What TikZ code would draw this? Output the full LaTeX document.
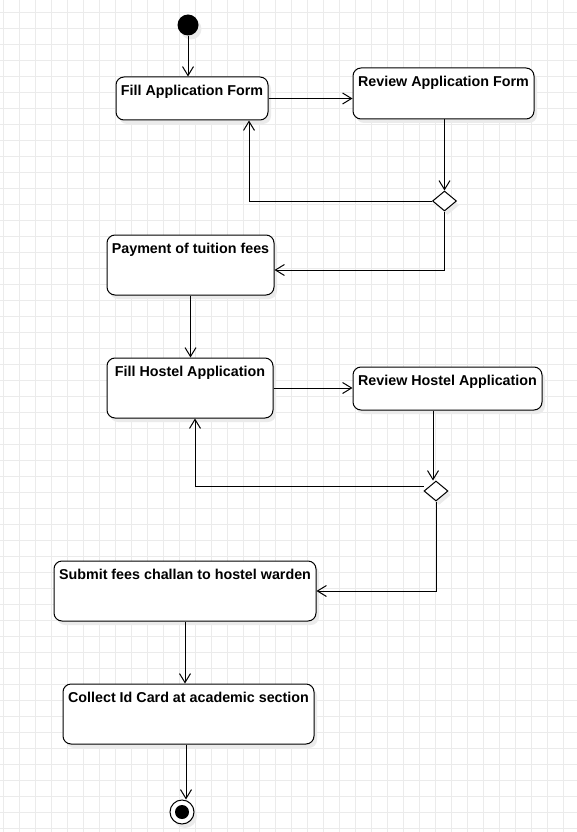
\documentclass[tikz,border=0pt]{standalone}
\usepackage{fontspec}
\setmainfont{Liberation Sans}
\usetikzlibrary{arrows.meta,shapes.geometric,shadows}

\begin{document}
\begin{tikzpicture}[x=1pt, y=-1pt, line width=1pt,
    >={Straight Barb[length=9pt,width=11pt]},
    shade/.style={drop shadow={shadow xshift=3pt, shadow yshift=-4pt, fill=black!8, opacity=1}},
    act/.style={draw, fill=white, rounded corners=8pt, inner sep=0pt, shade},
    txt/.style={anchor=north, inner sep=0pt, yshift=-8pt, font=\fontsize{14.3}{17}\selectfont\bfseries},
    dec/.style={diamond, draw, fill=white, inner sep=0pt, minimum width=24pt, minimum height=20pt, shade},
    flow/.style={->}]
    \useasboundingbox (0,0) rectangle (577,832);
    % grid
    \foreach \gx in {0,...,35} \draw[black!8] (3.3+16*\gx,0) -- (3.3+16*\gx,832);
    \foreach \gy in {0,...,51} \draw[black!8] (0,12.3+16*\gy) -- (577,12.3+16*\gy);

    \node[circle, fill=black, inner sep=0pt, minimum size=21pt, shade] (start) at (188,25) {};
    \node[act, minimum width=152pt, minimum height=43pt, label={[txt]north:Fill Application Form}] (fillapp) at (192,98.5) {};
    \node[act, minimum width=181pt, minimum height=51pt, label={[txt]north:Review Application Form}] (reviewapp) at (443.5,93.5) {};
    \node[dec] (dec1) at (444.5,201) {};
    \node[act, minimum width=167pt, minimum height=60pt, label={[txt]north:Payment of tuition fees}] (payment) at (190.5,265) {};
    \node[act, minimum width=166pt, minimum height=60pt, label={[txt]north:Fill Hostel Application}] (fillhostel) at (190,388) {};
    \node[act, minimum width=189pt, minimum height=43pt, label={[txt]north:Review Hostel Application}] (reviewhostel) at (447.5,388.5) {};
    \node[dec] (dec2) at (436,491) {};
    \node[act, minimum width=262pt, minimum height=60pt, label={[txt]north:Submit fees challan to hostel warden}] (submit) at (185,591) {};
    \node[act, minimum width=251pt, minimum height=60pt, label={[txt]north:Collect Id Card at academic section}] (collect) at (188.5,714) {};
    \node[circle, draw, fill=white, inner sep=0pt, minimum size=24pt, shade] (final) at (182,812) {};
    \node[circle, fill=black, inner sep=0pt, minimum size=14pt] (finaldot) at (final) {};

    \draw[flow] (start.south) -- (start |- fillapp.north);
    \draw[flow] (fillapp.east) -- (fillapp.east -| reviewapp.west);
    \draw[flow] (reviewapp.south -| dec1.north) -- (dec1.north);
    \draw[flow] (dec1.west) -| ([xshift=57pt]fillapp.south);
    \draw[flow] (dec1.south) |- ([yshift=-5pt]payment.east);
    \draw[flow] (payment.south) -- (payment.south |- fillhostel.north);
    \draw[flow] (fillhostel.east) -- (fillhostel.east -| reviewhostel.west);
    \draw[flow] ([xshift=-3pt]dec2.north |- reviewhostel.south) -- ([xshift=-3pt]dec2.north);
    \draw[flow] ([yshift=5pt]dec2.west) -| ([xshift=5pt]fillhostel.south);
    \draw[flow] (dec2.south) |- (submit.east);
    \draw[flow] (submit.south) -- (submit.south |- collect.north);
    \draw[flow] ([xshift=-2.5pt]collect.south) -- ([xshift=-2.5pt]collect.south |- final.north);
\end{tikzpicture}
\end{document}
